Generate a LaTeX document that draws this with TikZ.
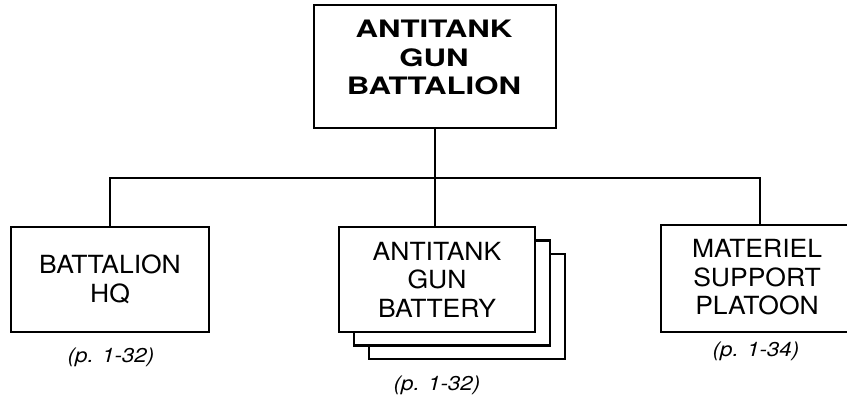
\documentclass[tikz,border=0pt]{standalone}
\usepackage{fontspec}
\newfontfamily\regfont[FakeStretch=1.06]{TeX Gyre Heros}
\newfontfamily\widebold[FakeStretch=1.3]{TeX Gyre Heros}
\newfontfamily\itfont[FakeStretch=1.12]{TeX Gyre Heros}
\begin{document}
\begin{tikzpicture}[x=1pt,y=1pt,
  box/.style={draw=black, line width=2.6pt, fill=white, inner sep=0pt, rectangle},
  openbox/.style={draw=black, line width=2.6pt, line join=miter},
  unittext/.style={align=center, inner sep=0pt, font={\regfont\fontsize{25}{28.5}\selectfont}},
  toptext/.style={align=center, inner sep=0pt, font={\widebold\bfseries\fontsize{24}{28.5}\selectfont}},
  pagelabel/.style={inner sep=0pt, font={\itfont\itshape\fontsize{20}{24}\selectfont}},
  conn/.style={line width=2.6pt, line cap=rect}]
\useasboundingbox (0,0) rectangle (847,-397);
% top box
\node[box, minimum width=242, minimum height=123] (top) at (435,-66.5) {};
\node[toptext] (toptxt) at (434,-57.5) {ANTITANK\\GUN\\BATTALION};
% bus coordinates
\coordinate (busl) at (110,-178);
\coordinate (busr) at (760,-178);
% battery stack
\node[box, minimum width=196, minimum height=105] (bat3) at (467,-306.5) {};
\node[box, minimum width=196, minimum height=105] (bat2) at (452,-293) {};
\node[box, minimum width=196, minimum height=105, unittext] (bat) at (437,-279.5) {ANTITANK\\GUN\\BATTERY};
% HQ
\node[box, minimum width=198, minimum height=105, unittext] (hq) at (110,-279.5) {BATTALION\\HQ};
% Materiel (its right edge runs off the picture)
\coordinate (matnw) at (661,-225);
\coordinate (matne) at (847,-225);
\coordinate (matsw) at (661,-332);
\coordinate (matse) at (847,-332);
\draw[openbox] (matne) -- (matnw) -- (matsw) -- (matse);
\node[unittext] (mattxt) at (757,-277.5) {MATERIEL\\SUPPORT\\PLATOON};
% connectors
\draw[conn] (top.south) -- (top.south |- bat.north);
\draw[conn] (hq.north) -- (busl) -- (busr) -- (busr |- matne);
% labels
\node[pagelabel] (lblhq) at (111,-357) {(p. 1-32)};
\node[pagelabel] (lblbat) at (437,-385) {(p. 1-32)};
\node[pagelabel] (lblmat) at (756,-351) {(p. 1-34)};
\end{tikzpicture}
\end{document}
